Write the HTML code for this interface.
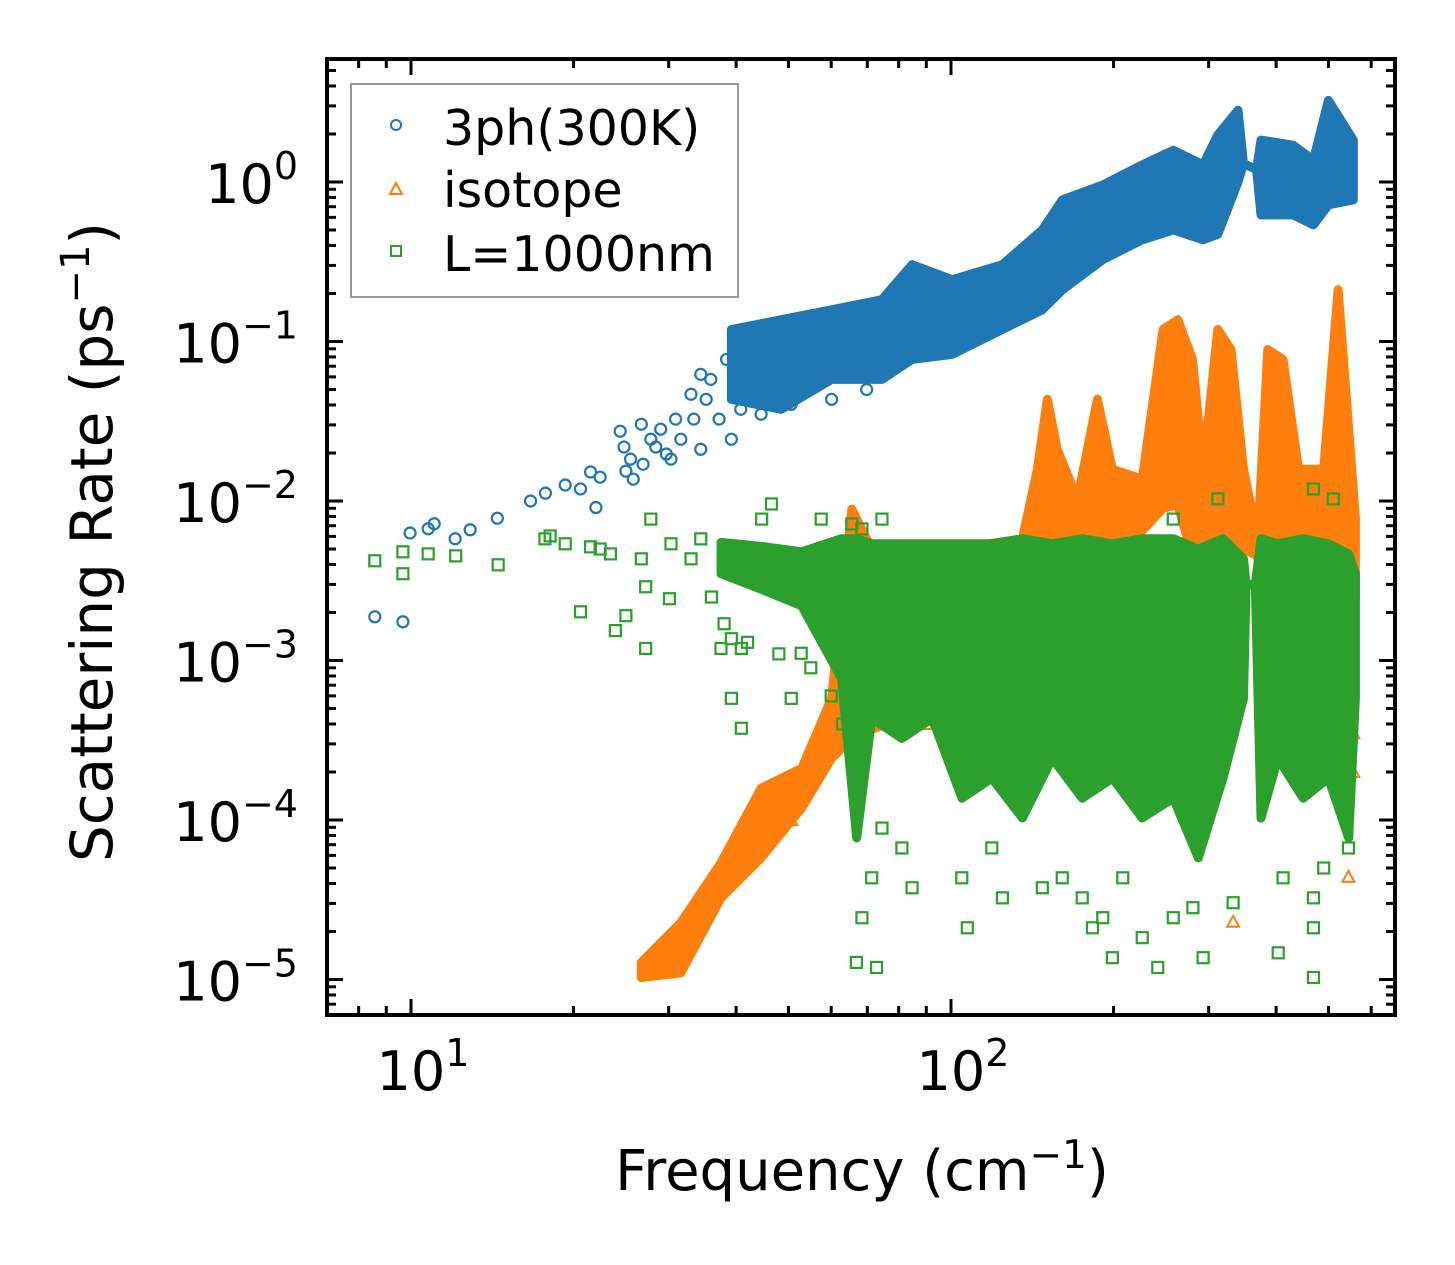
<!DOCTYPE html>
<html><head><meta charset="utf-8"><style>
html,body{margin:0;padding:0;background:#fff;}
svg{display:block;font-family:"DejaVu Sans","Liberation Sans",sans-serif;}
</style></head><body>
<svg id="chart" width="1455" height="1265" viewBox="0 0 1455 1265">
<rect x="0" y="0" width="1455" height="1265" fill="#fff"/>
<g id="marks"></g>
<g id="axes"></g>
<g id="legend">
<rect x="351" y="84" width="387" height="213" fill="#fff" stroke="#999" stroke-width="2"/>
<circle cx="396" cy="125" r="5" fill="none" stroke="#1f77b4" stroke-width="2"/>
<text x="443" y="145" font-size="49">3ph(300K)</text>
<polygon points="390,194 396,183 402,194" fill="none" stroke="#ff7f0e" stroke-width="2"/>
<text x="443" y="207" font-size="49">isotope</text>
<rect x="391" y="246" width="10" height="10" fill="none" stroke="#2ca02c" stroke-width="2"/>
<text x="443" y="271" font-size="49">L=1000nm</text>
</g>
<text x="862" y="1190" font-size="56" text-anchor="middle">Frequency (cm<tspan font-size="39" dy="-22">−1</tspan><tspan dy="22">)</tspan></text>
<text transform="translate(112,542) rotate(-90)" x="0" y="0" font-size="58" text-anchor="middle">Scattering Rate (ps<tspan font-size="40" dy="-23">−1</tspan><tspan dy="23">)</tspan></text>
</svg>
<script>
// ---------- data ----------
const xTickValues = [10, 100];
const xTickLabels = ["1", "2"];
const yTickValues = [1, 0.1, 0.01, 0.001, 0.0001, 0.00001];
const yTickLabels = ["0", "−1", "−2", "−3", "−4", "−5"];

// 3ph dense band
const blueBandF  = [39.2,48.5,60.1,74.5,84.7,100.5,124.5,147.6,160.8,191,226,258,293,312,340,348,368,375,430,469,500,556];
const blueBandLo = [0.0434,0.0376,0.0579,0.0579,0.0772,0.083,0.119,0.158,0.211,0.326,0.434,0.501,0.434,0.47,1.0,1.3,1.2,0.622,0.622,0.538,0.718,0.772];
const blueBandHi = [0.119,0.137,0.158,0.183,0.303,0.244,0.303,0.501,0.772,0.957,1.28,1.58,1.28,1.97,2.82,1.3,1.2,1.83,1.70,1.37,3.25,1.83];
// 3ph scattered points
const blueF = [8.57,9.66,9.96,10.76,11.04,12.07,12.87,14.45,16.65,17.74,19.3,20.6,21.5,22.4,22.0,24.4,24.8,25.0,25.5,25.8,26.7,26.9,27.8,28.4,29.0,29.7,30.3,30.9,31.6,33.0,33.4,34.4,34.4,35.2,35.9,37.2,38.4,39.2,40.8,44.5,50.6,60.1,69.8,84.7,135.6];
const blueR = [0.00188,0.00175,0.0063,0.0067,0.0072,0.0058,0.0066,0.0078,0.01,0.0112,0.0126,0.0119,0.0152,0.0141,0.0091,0.0274,0.0218,0.0154,0.0183,0.0137,0.0303,0.017,0.0244,0.0218,0.0282,0.0197,0.0183,0.0326,0.0244,0.0467,0.0326,0.0622,0.0211,0.0434,0.0579,0.0326,0.0772,0.0244,0.0376,0.035,0.0404,0.0434,0.05,0.27,0.28];

// isotope dense band
const orangeBandF  = [26.7,31.6,37.5,44.5,52.9,60.1,65.5,71.3,100.5,135.6,144.6,150.8,157.3,171.5,186.7,199,226,247,263,280,293,312,330,348,370,386,412,440,490,521,545,561];
const orangeBandLo = [1.03e-5,1.1e-5,3.25e-5,5.79e-5,1.19e-4,2.44e-4,3.25e-4,3.7e-4,5.79e-4,0.00244,0.003,0.0033,0.0038,0.0045,0.005,0.0055,0.0065,0.009,0.0095,0.0045,0.0045,0.0045,0.0045,0.005,0.0045,0.0045,0.0045,0.0045,0.005,0.0045,0.004,0.0024];
const orangeBandHi = [1.28e-5,2.27e-5,5.39e-5,1.58e-4,2.11e-4,5.79e-4,0.0089,0.005,0.005,0.00579,0.0159,0.0434,0.0211,0.0103,0.0434,0.0158,0.0137,0.119,0.137,0.0772,0.0158,0.119,0.089,0.0158,0.00579,0.089,0.0772,0.0158,0.0158,0.211,0.0282,0.0077];
const orangeF = [333,544.5,556,556,293,50.6,65.5,82,90,120];
const orangeR = [2.3e-5,4.4e-5,3.5e-4,2.0e-4,1.0e-4,1.0e-4,0.008,0.0009,0.0004,0.0006];

// L=1000nm dense band
const greenBandF  = [37.5,44.5,52.9,62.7,66.9,71.3,81.1,92.3,104.8,119,135.6,154,175,199,226,258,287,319,348,352,366,375,403,449,500,545,561];
const greenBandLo = [0.0035,0.0028,0.0022,7.72e-4,7.72e-5,4.34e-4,3.25e-4,4.34e-4,1.37e-4,1.83e-4,1.03e-4,2.44e-4,1.37e-4,1.83e-4,1.03e-4,1.37e-4,5.79e-5,1.83e-4,5.79e-4,0.003,0.003,1.03e-4,2.44e-4,1.37e-4,1.83e-4,7.7e-5,5.79e-4];
const greenBandHi = [0.0055,0.0052,0.0048,0.0058,0.0058,0.00539,0.00539,0.00539,0.00539,0.00539,0.0058,0.00539,0.0058,0.00539,0.0058,0.0058,0.005,0.0058,0.00434,0.003,0.003,0.0058,0.00539,0.0058,0.00539,0.00466,0.0035];
const greenF = [8.57,9.66,9.66,10.76,12.1,14.5,17.7,18.1,19.3,20.6,21.5,22.4,23.4,23.9,25.0,26.7,27.2,27.8,30.1,30.3,33.0,34.4,27.2,37.5,39.2,40.9,40.9,44.6,46.5,50.6,52.8,57.5,65.5,68.4,81.1,39.2,
  71.3,68.4,74.5,81.1,84.7,66.8,72.8,104.7,107.2,119,124.5,147.6,160.7,175,182.8,191,199,208,226,241.5,258,293,333,280.5,469,469,469,412,403.6,544.5,490,74.5,74.5,
  312,469,510.5,258,74.5,36,38,42,48,55,60,63];
const greenR = [0.00422,0.0035,0.0048,0.00466,0.00453,0.00398,0.00579,0.00604,0.00539,0.00202,0.00516,0.005,0.00466,0.00154,0.00191,0.00434,0.0029,0.0077,0.00244,0.00539,0.00434,0.00579,0.00119,0.00119,0.000579,0.000376,0.00119,0.0077,0.00958,0.000579,0.00111,0.0077,0.00718,0.00668,0.00434,0.00137,
  4.34e-5,2.44e-5,8.9e-5,6.68e-5,3.76e-5,1.28e-5,1.19e-5,4.34e-5,2.11e-5,6.68e-5,3.25e-5,3.76e-5,4.34e-5,3.25e-5,2.11e-5,2.44e-5,1.37e-5,4.34e-5,1.83e-5,1.19e-5,2.44e-5,1.37e-5,3.03e-5,2.82e-5,1.03e-5,2.11e-5,3.25e-5,4.34e-5,1.47e-5,6.68e-5,5e-5,7.72e-4,4.34e-4,
  0.0103,0.0119,0.0103,0.0077,0.0077,0.0025,0.0017,0.0013,0.0011,0.0009,0.0006,0.0004];

// ---------- axes ----------
const PL=327, PR=1395, PT=59, PB=1015;
const X10=411, XDEC=540, Y1=182, YDEC=159.5;
function xs(f){ return X10 + (Math.log10(f)-1)*XDEC; }
function ys(r){ return Y1 - Math.log10(r)*YDEC; }
const NS='http://www.w3.org/2000/svg';
function mk(tag, attrs, parent){ const e=document.createElementNS(NS,tag); for(const k in attrs) e.setAttribute(k,attrs[k]); parent.appendChild(e); return e; }

const marks=document.getElementById('marks');
const axes=document.getElementById('axes');

function band(F,Lo,Hi,color,name){
  const pts=[];
  for(let i=0;i<F.length;i++) pts.push(xs(F[i]).toFixed(1)+','+ys(Hi[i]).toFixed(1));
  for(let i=F.length-1;i>=0;i--) pts.push(xs(F[i]).toFixed(1)+','+ys(Lo[i]).toFixed(1));
  const p=mk('polygon',{points:pts.join(' '),fill:color,stroke:color,'stroke-width':9,'stroke-linejoin':'round'},marks);
  
  
}
function circles(F,R,color,name){
  for(let i=0;i<F.length;i++){
    const c=mk('circle',{cx:xs(F[i]),cy:ys(R[i]),r:5.5,fill:'none',stroke:color,'stroke-width':2.2},marks);
    
    
  }
}
function tris(F,R,color,name){
  for(let i=0;i<F.length;i++){
    const x=xs(F[i]), y=ys(R[i]);
    const t=mk('polygon',{points:(x-6)+','+(y+5)+' '+x+','+(y-6)+' '+(x+6)+','+(y+5),fill:'none',stroke:color,'stroke-width':2},marks);
    
    
  }
}
function squares(F,R,color,name){
  for(let i=0;i<F.length;i++){
    const s=mk('rect',{x:xs(F[i])-5.5,y:ys(R[i])-5.5,width:11,height:11,fill:'none',stroke:color,'stroke-width':2.2},marks);
    
    
  }
}
band(blueBandF,blueBandLo,blueBandHi,'#1f77b4','3ph-dense-band');
circles(blueF,blueR,'#1f77b4','3ph-point');
band(orangeBandF,orangeBandLo,orangeBandHi,'#ff7f0e','isotope-dense-band');
tris(orangeF,orangeR,'#ff7f0e','isotope-point');
band(greenBandF,greenBandLo,greenBandHi,'#2ca02c','boundary-dense-band');
squares(greenF,greenR,'#2ca02c','boundary-point');

// frame
const fr=mk('rect',{x:PL,y:PT,width:PR-PL,height:PB-PT,fill:'none',stroke:'#000','stroke-width':4},axes);



// x ticks
for(let d=0; d<3; d++){
  for(let m=1;m<10;m++){
    const v=m*Math.pow(10,d);
    const x=xs(v);
    if(x<PL+2||x>PR-2) continue;
    const L=(m===1)?16:9;
    const t1=mk('line',{x1:x,y1:PB,x2:x,y2:PB-L,stroke:'#000','stroke-width':3},axes);
    
    
    const t2=mk('line',{x1:x,y1:PT,x2:x,y2:PT+L,stroke:'#000','stroke-width':3},axes);
    
    
  }
}
for(let i=0;i<xTickValues.length;i++){
  const x=xs(xTickValues[i]);
  const t=mk('text',{x:x+12,y:1090,'font-size':54,'text-anchor':'middle'},axes);
  t.innerHTML='10<tspan font-size="38" dy="-24">'+xTickLabels[i]+'</tspan>';
  
  
}
// y ticks
for(let d=-6; d<1; d++){
  for(let m=1;m<10;m++){
    const v=m*Math.pow(10,d);
    const y=ys(v);
    if(y<PT+2||y>PB-2) continue;
    const L=(m===1)?16:9;
    const t1=mk('line',{x1:PL,y1:y,x2:PL+L,y2:y,stroke:'#000','stroke-width':3},axes);
    
    
    const t2=mk('line',{x1:PR,y1:y,x2:PR-L,y2:y,stroke:'#000','stroke-width':3},axes);
    
    
  }
}
for(let i=0;i<yTickValues.length;i++){
  const y=ys(yTickValues[i]);
  const t=mk('text',{x:298,y:y+21,'font-size':54,'text-anchor':'end'},axes);
  t.innerHTML='10<tspan font-size="38" dy="-24">'+yTickLabels[i]+'</tspan>';
  
  
}
</script>
</body></html>
